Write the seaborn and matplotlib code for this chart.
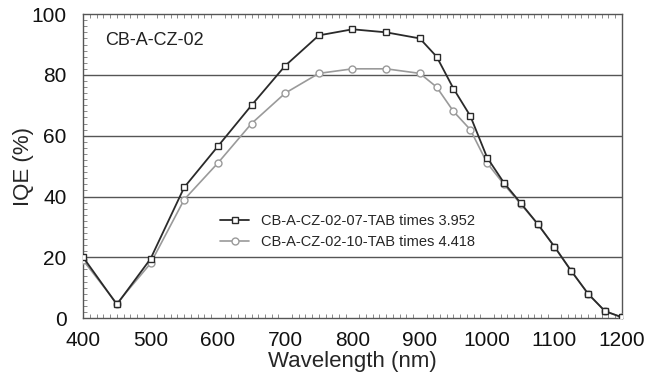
import numpy as np
import pandas as pd
import matplotlib
matplotlib.use('Agg')
import matplotlib.pyplot as plt
import seaborn as sns
from matplotlib.ticker import MultipleLocator

wavelength = [400, 450, 500, 550, 600, 650, 700, 750, 800, 850, 900, 925, 950, 975,
              1000, 1025, 1050, 1075, 1100, 1125, 1150, 1175, 1200]
iqe_07 = [20, 4.5, 19.5, 43, 56.5, 70, 83, 93, 95, 94, 92, 86, 75.5, 66.5,
          52.8, 44.5, 37.8, 31, 23.5, 15.5, 8, 2.3, 0.3]
iqe_10 = [19, 4.8, 18, 39, 51, 64, 74, 80.5, 82, 82, 80.5, 76, 68, 62,
          51, 44, 37.5, 31, 23.5, 15.5, 8, 2.3, 0.3]
label_07 = 'CB-A-CZ-02-07-TAB times 3.952'
label_10 = 'CB-A-CZ-02-10-TAB times 4.418'

sns.set_style('white')
plt.rcParams['font.family'] = ['Liberation Sans', 'DejaVu Sans']

fig = plt.figure(figsize=(6.45, 3.81), dpi=100)
ax = fig.add_axes([0.129, 0.165, 0.835, 0.798])

df = pd.DataFrame({'wl': wavelength, 'a': iqe_07, 'b': iqe_10})
sns.lineplot(data=df, x='wl', y='b', ax=ax, color='#9a9a9a', lw=1.2,
             marker='o', markersize=5, markerfacecolor='white',
             markeredgecolor='#9a9a9a', markeredgewidth=1, label=label_10, zorder=3)
sns.lineplot(data=df, x='wl', y='a', ax=ax, color='#2a2a2a', lw=1.3,
             marker='s', markersize=5, markerfacecolor='white',
             markeredgecolor='#2a2a2a', markeredgewidth=1, label=label_07, zorder=4)

ax.set_xlim(400, 1200)
ax.set_ylim(0, 100)
ax.xaxis.set_major_locator(MultipleLocator(100))
ax.xaxis.set_minor_locator(MultipleLocator(10))
ax.yaxis.set_major_locator(MultipleLocator(20))
ax.yaxis.set_minor_locator(MultipleLocator(2))
ax.tick_params(axis='both', which='major', labelsize=15, length=0, colors='#111111')
ax.tick_params(axis='x', which='major', pad=9)
ax.tick_params(axis='y', which='major', pad=12)
ax.tick_params(axis='both', which='minor', direction='in', length=3, color='#777777')
ax.tick_params(axis='x', which='minor', top=True, bottom=True)
ax.tick_params(axis='y', which='minor', left=True)
for y in [20, 40, 60, 80]:
    ax.axhline(y, color='#555555', lw=1, zorder=1)
for s in ax.spines.values():
    s.set_color('#555555')
    s.set_linewidth(1)

ax.set_xlabel('Wavelength (nm)', fontsize=16, labelpad=1)
ax.set_ylabel('IQE (%)', fontsize=16, labelpad=-2)
ax.text(0.04, 0.9, 'CB-A-CZ-02', transform=ax.transAxes, fontsize=13, color='#222222')

h, l = ax.get_legend_handles_labels()
ax.legend(h[::-1], l[::-1], loc='center left', bbox_to_anchor=(0.23, 0.285),
          frameon=False, fontsize=10.5, handlelength=2.0, labelspacing=0.45)

fig.savefig('out.png', dpi=100)
